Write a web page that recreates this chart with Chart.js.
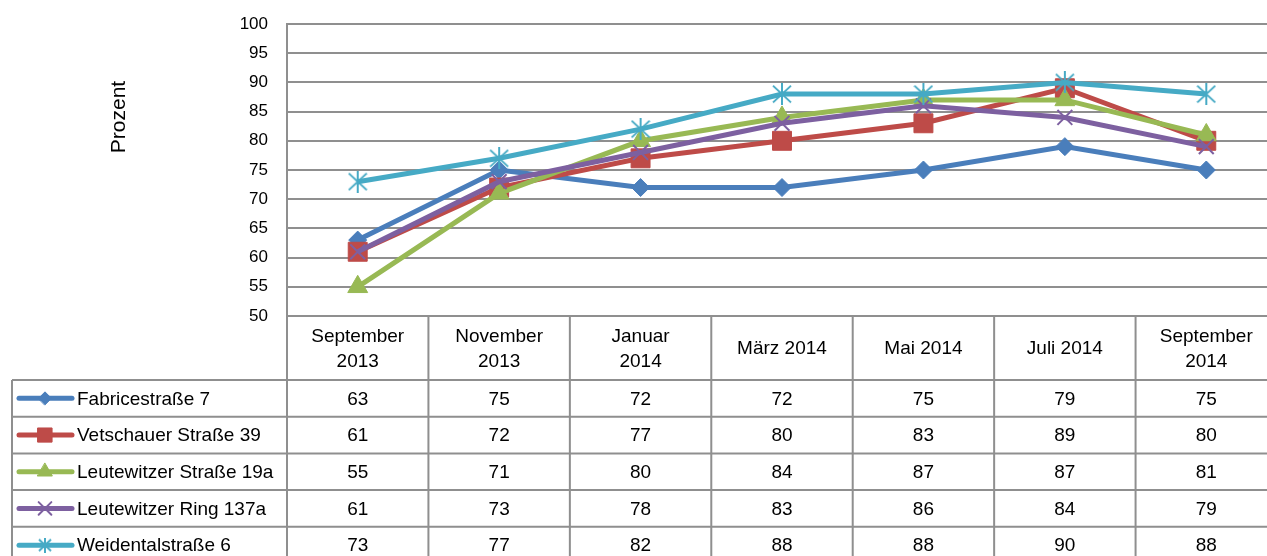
<!DOCTYPE html>
<html>
<head>
<meta charset="utf-8">
<script src="https://cdn.jsdelivr.net/npm/chart.js"></script>
<style>
  html, body { margin: 0; padding: 0; background: #fff; overflow: hidden; }
  #wrap { width: 1280px; height: 556px; overflow: hidden; }
</style>
</head>
<body>
<div id="wrap"><canvas id="myChart" width="1280" height="556" style="width:1280px;height:556px"></canvas></div>
<script>
const categories = [['September', '2013'], ['November', '2013'], ['Januar', '2014'], 'März 2014', 'Mai 2014', 'Juli 2014', ['September', '2014']];
const seriesNames = ['Fabricestraße 7', 'Vetschauer Straße 39', 'Leutewitzer Straße 19a', 'Leutewitzer Ring 137a', 'Weidentalstraße 6'];
const fabrice = [63, 75, 72, 72, 75, 79, 75];
const vetschauer = [61, 72, 77, 80, 83, 89, 80];
const leutewitzerStr = [55, 71, 80, 84, 87, 87, 81];
const leutewitzerRing = [61, 73, 78, 83, 86, 84, 79];
const weidental = [73, 77, 82, 88, 88, 90, 88];
const seriesValues = [fabrice, vetschauer, leutewitzerStr, leutewitzerRing, weidental];
const colors = ['#4a7ebb', '#be4b48', '#98b954', '#7d60a0', '#46aac5'];

const FONT = "'Liberation Sans', Arial, sans-serif";
const GRID = '#8f8f8f';

// asterisk marker like the Excel one (vertical bar + X)
const makeAsterisk = (w, h, color, lw) => {
  const c = document.createElement('canvas');
  c.width = w; c.height = h;
  const g = c.getContext('2d');
  g.strokeStyle = color;
  g.lineWidth = lw;
  g.beginPath();
  g.moveTo(w / 2, 0); g.lineTo(w / 2, h);
  g.moveTo(1, h * 0.12); g.lineTo(w - 1, h * 0.88);
  g.moveTo(w - 1, h * 0.12); g.lineTo(1, h * 0.88);
  g.stroke();
  return c;
};

const plotStyles = [
  { pointStyle: 'rectRot', radius: 9, bw: 1 },
  { pointStyle: 'rect', radius: 13.4, bw: 1 },
  { pointStyle: 'triangle', radius: 11.5, bw: 1 },
  { pointStyle: 'crossRot', radius: 10.5, bw: 2 },
  { pointStyle: makeAsterisk(20, 22, colors[4], 2), radius: 10, bw: 2 }
];
const legendStyles = [
  { pointStyle: 'rectRot', radius: 6.5, bw: 1 },
  { pointStyle: 'rect', radius: 10, bw: 1 },
  { pointStyle: 'triangle', radius: 8.5, bw: 1 },
  { pointStyle: 'crossRot', radius: 9, bw: 2 },
  { pointStyle: makeAsterisk(14, 15, colors[4], 2), radius: 7, bw: 2 }
];

const tablePlugin = {
  id: 'dataTable',
  afterDraw(chart) {
    const { ctx, chartArea, scales } = chart;
    const x = scales.x;
    const step = (chartArea.right - chartArea.left) / categories.length;
    const top = chartArea.bottom;
    const headerBottom = 380;
    const rowH = 36.7;
    const left = 12;
    const bottom = 600;
    ctx.save();
    ctx.strokeStyle = GRID;
    ctx.lineWidth = 2;
    ctx.beginPath();
    // horizontal lines
    for (let r = 0; r < seriesNames.length; r++) {
      const y = headerBottom + r * rowH;
      ctx.moveTo(left, y); ctx.lineTo(chartArea.right, y);
    }
    // vertical lines
    ctx.moveTo(left, headerBottom); ctx.lineTo(left, bottom);
    for (let i = 0; i <= categories.length; i++) {
      const vx = chartArea.left + i * step;
      ctx.moveTo(vx, top); ctx.lineTo(vx, bottom);
    }
    ctx.stroke();

    ctx.fillStyle = '#000';
    ctx.font = '19px ' + FONT;
    ctx.textAlign = 'center';
    ctx.textBaseline = 'middle';
    categories.forEach((cat, i) => {
      const cx = x.getPixelForValue(i);
      const lines = Array.isArray(cat) ? cat : [cat];
      const cy = (top + headerBottom) / 2 + 1;
      const lh = 25;
      lines.forEach((ln, k) => {
        ctx.fillText(ln, cx, cy + (k - (lines.length - 1) / 2) * lh);
      });
    });

    seriesValues.forEach((vals, r) => {
      const cy = headerBottom + r * rowH + rowH / 2 + 1;
      vals.forEach((v, i) => {
        ctx.fillText(String(v), x.getPixelForValue(i), cy);
      });
      // legend key
      ctx.strokeStyle = colors[r];
      ctx.fillStyle = colors[r];
      ctx.lineWidth = 5;
      ctx.lineCap = 'round';
      ctx.beginPath();
      ctx.moveTo(19, cy - 1); ctx.lineTo(72, cy - 1);
      ctx.stroke();
      const ls = legendStyles[r];
      ctx.lineWidth = ls.bw;
      Chart.helpers.drawPoint(ctx, { pointStyle: ls.pointStyle, radius: ls.radius, rotation: 0, borderWidth: ls.bw }, 45, cy - 1);
      ctx.fillStyle = '#000';
      ctx.textAlign = 'left';
      ctx.fillText(seriesNames[r], 77, cy);
      ctx.textAlign = 'center';
    });

    // axis title
    ctx.save();
    ctx.translate(119, 117);
    ctx.rotate(-Math.PI / 2);
    ctx.font = '21px ' + FONT;
    ctx.fillText('Prozent', 0, 0);
    ctx.restore();
    ctx.restore();
  }
};

new Chart(document.getElementById('myChart'), {
  type: 'line',
  data: {
    labels: categories,
    datasets: seriesValues.map((vals, i) => ({
      label: seriesNames[i],
      data: vals,
      borderColor: colors[i],
      backgroundColor: colors[i],
      borderWidth: 5,
      tension: 0,
      pointStyle: plotStyles[i].pointStyle,
      pointRadius: plotStyles[i].radius,
      pointHoverRadius: plotStyles[i].radius,
      pointBorderWidth: plotStyles[i].bw,
      pointBackgroundColor: colors[i],
      pointBorderColor: colors[i],
      order: seriesNames.length - 1 - i,
      clip: false
    }))
  },
  options: {
    responsive: false,
    animation: false,
    layout: { autoPadding: false, padding: { left: 0, top: 24, right: 3, bottom: 240 } },
    plugins: {
      legend: { display: false },
      tooltip: { enabled: false }
    },
    scales: {
      x: {
        offset: true,
        ticks: { display: false },
        grid: { display: false },
        border: { display: true, color: GRID, width: 2 },
        afterFit: (scale) => { scale.height = 0; }
      },
      y: {
        min: 50,
        max: 100,
        ticks: { stepSize: 5, padding: 19, color: '#000', font: { family: FONT, size: 17 } },
        grid: { color: GRID, lineWidth: 2, drawTicks: false },
        border: { display: true, color: GRID, width: 2 },
        afterFit: (scale) => {
          scale.width = 287;
          scale.paddingTop = 0;
          scale.paddingBottom = 0;
        }
      }
    }
  },
  plugins: [tablePlugin]
});
</script>
</body>
</html>
